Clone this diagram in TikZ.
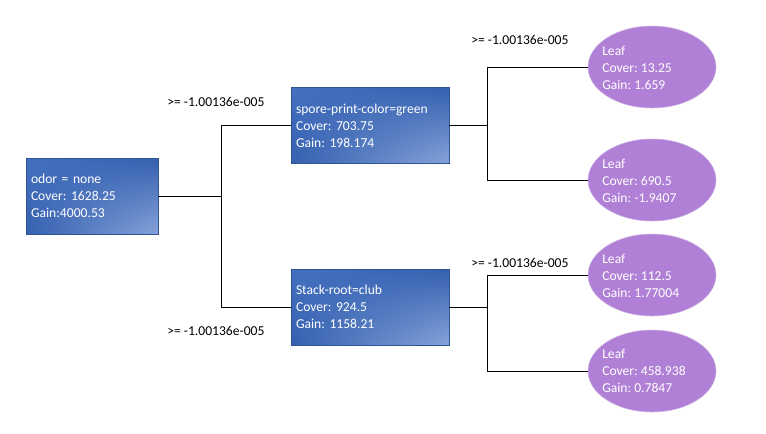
\documentclass[tikz,border=0pt]{standalone}
\usepackage{fontspec}
\setmainfont{Carlito}
\usetikzlibrary{shapes.geometric, positioning, calc, shadings}

\definecolor{boxblue}{HTML}{4470C0}
\definecolor{boxdark}{HTML}{3560AE}
\definecolor{boxlight}{HTML}{86A3DA}
\definecolor{boxedge}{HTML}{2F5597}
\definecolor{leafpurple}{HTML}{AF80D6}

\frenchspacing

\begin{document}
\begin{tikzpicture}[
    x=0.75pt, y=-0.75pt,
    every node/.style={font=\fontsize{10.2}{12.75}\selectfont},
    split/.style={draw=boxedge, line width=0.5pt, text=white, align=left,
        inner xsep=3.75pt, inner ysep=0pt, minimum height=57pt,
        upper left=boxblue, lower right=boxlight, upper right=boxdark, lower left=boxdark},
    leaf/.style={ellipse, fill=leafpurple, draw=leafpurple!60!white, line width=0.4pt,
        minimum width=96pt, minimum height=61.5pt, inner sep=0pt},
    leaftxt/.style={text=white, align=left, anchor=west, inner sep=0pt},
    edge/.style={black, line width=0.75pt},
    cond/.style={anchor=west, inner sep=0pt}
]
\useasboundingbox (0,0) rectangle (766,433);

% split nodes
\node[split, text width=91.5pt] (root) at (92,196)
    {odor = none\\Cover: 1628.25\\Gain:4000.53};
\node[split, text width=111pt] (spore) at (370,125.5)
    {spore-print-color=green\\Cover: 703.75\\Gain: 198.174};
\node[split, text width=111pt] (stack) at (370,307)
    {Stack-root=club\\Cover: 924.5\\Gain: 1158.21};

% leaves
\node[leaf] (leafA) at (652,67) {};
\node[leaf] (leafB) at (652,180) {};
\node[leaf] (leafC) at (652,275) {};
\node[leaf] (leafD) at (652,371) {};
\node[leaftxt] (txtA) at (602,68) {Leaf\\Cover: 13.25\\Gain: 1.659};
\node[leaftxt] (txtB) at (602,181) {Leaf\\Cover: 690.5\\Gain: -1.9407};
\node[leaftxt] (txtC) at (602,276) {Leaf\\Cover: 112.5\\Gain: 1.77004};
\node[leaftxt] (txtD) at (602,371) {Leaf\\Cover: 458.938\\Gain: 0.7847};

% junctions
\coordinate (jRoot) at (221,196);
\coordinate (jSpore) at (487,125.5);
\coordinate (jStack) at (487,307);

\draw[edge] (root.east) -- (jRoot) |- (spore.west);
\draw[edge] (jRoot) |- (stack.west);
\draw[edge] (spore.east) -- (jSpore) |- (leafA.west);
\draw[edge] (jSpore) |- (leafB.west);
\draw[edge] (stack.east) -- (jStack) |- (leafC.west);
\draw[edge] (jStack) |- (leafD.west);

% conditions
\node[cond] (condA) at (167,102) {>= -1.00136e-005};
\node[cond] (condB) at (167,331) {>= -1.00136e-005};
\node[cond] (condC) at (471,40) {>= -1.00136e-005};
\node[cond] (condD) at (471,263) {>= -1.00136e-005};

\end{tikzpicture}
\end{document}
